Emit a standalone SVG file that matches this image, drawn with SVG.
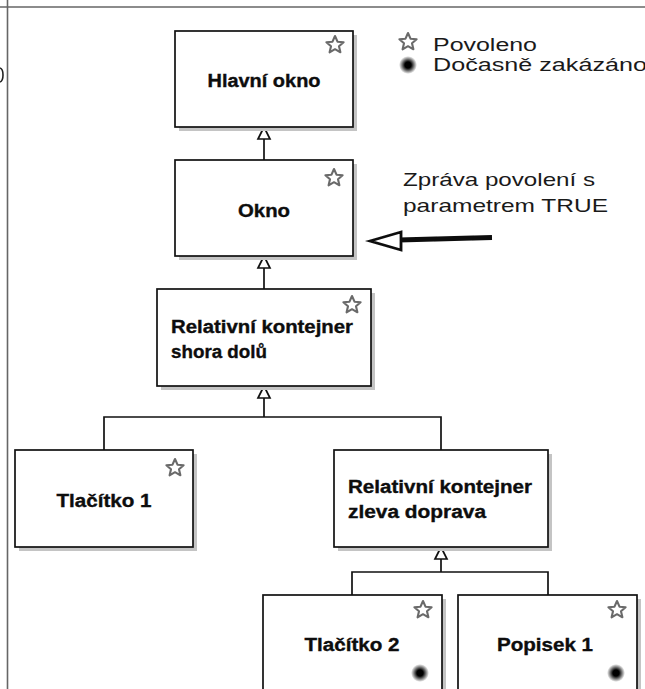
<svg xmlns="http://www.w3.org/2000/svg" width="645" height="689" viewBox="0 0 645 689">
  <style>
    .box { fill: #ffffff; stroke: #111111; stroke-width: 1.7; }
    .shadow { fill: #c4c4c4; }
    .lbl { font-family: "Liberation Sans", Arial, sans-serif; font-weight: bold; font-size: 18px; fill: #0d0d0d; stroke: #0d0d0d; stroke-width: 0.35px; }
    .note { font-family: "Liberation Sans", Arial, sans-serif; font-size: 19px; fill: #1a1a1a; }
    .legend-text { font-family: "Liberation Sans", Arial, sans-serif; font-size: 17.5px; fill: #1a1a1a; }
    .wire { fill: none; stroke: #111111; stroke-width: 1.7; }
    .tri { fill: #ffffff; stroke: #111111; stroke-width: 1.7; stroke-linejoin: miter; }
    .star { fill: #ffffff; stroke: #6a6a6a; stroke-width: 2.1; stroke-linejoin: round; }
    .frame { stroke: #666666; stroke-width: 1.6; fill: none; }
  </style>
  <defs>
    <path id="star" d="M0,-9 L2.5,-3.3 L8.6,-2.8 L4,1.3 L5.4,7.3 L0,4.2 L-5.4,7.3 L-4,1.3 L-8.6,-2.8 L-2.5,-3.3 Z"/>
    <radialGradient id="dotGrad">
      <stop offset="0" stop-color="#000000"/>
      <stop offset="0.35" stop-color="#000000"/>
      <stop offset="1" stop-color="#000000" stop-opacity="0"/>
    </radialGradient>
    <filter id="soft" x="-20%" y="-50%" width="140%" height="200%">
      <feGaussianBlur stdDeviation="0.7"/>
    </filter>
  </defs>

  <rect width="645" height="689" fill="#ffffff"/>

  <!-- page frame lines -->
  <line class="frame" x1="0" y1="7" x2="645" y2="7"/>
  <line class="frame" x1="7.5" y1="0" x2="7.5" y2="689"/>
  <path d="M0,68 Q3,69 3,75 Q3,81 0,82" fill="none" stroke="#222" stroke-width="1.6"/>

  <!-- legend -->
  <g id="legend">
    <use href="#star" x="408" y="42" class="star"/>
    <text class="legend-text" x="433" y="51" textLength="104" lengthAdjust="spacingAndGlyphs">Povoleno</text>
    <circle cx="408" cy="65" r="9" fill="url(#dotGrad)"/>
    <text class="legend-text" x="433" y="71" textLength="214" lengthAdjust="spacingAndGlyphs">Dočasně zakázáno</text>
  </g>

  <!-- message note with arrow -->
  <g id="message">
    <text class="note" x="403" y="186" textLength="192" lengthAdjust="spacingAndGlyphs">Zpráva povolení s</text>
    <text class="note" x="403" y="212" textLength="205" lengthAdjust="spacingAndGlyphs">parametrem TRUE</text>
    <g filter="url(#soft)">
      <line x1="398" y1="240" x2="492" y2="237.5" stroke="#0d0d0d" stroke-width="5"/>
      <polygon points="370,241 401,232 401,250" fill="#ffffff" stroke="#0d0d0d" stroke-width="2.8" stroke-linejoin="miter"/>
    </g>
  </g>

  <!-- connectors -->
  <g id="connectors">
    <line class="wire" x1="264" y1="139" x2="264" y2="160"/>
    <polygon class="tri" points="264,127 258,139 270,139"/>
    <line class="wire" x1="264" y1="268" x2="264" y2="289"/>
    <polygon class="tri" points="264,256 258,268 270,268"/>
    <path class="wire" d="M264,398 V417 M104,450 V417 H441 V450"/>
    <polygon class="tri" points="264,386 258,398 270,398"/>
    <path class="wire" d="M441,559 V572 M352,595 V572 H548 V595"/>
    <polygon class="tri" points="441,547 435,559 447,559"/>
  </g>

  <!-- nodes -->
  <g id="node-hlavni-okno">
    <rect class="shadow" x="179" y="35" width="178" height="96"/>
    <rect class="box" x="175" y="31" width="178" height="96"/>
    <use href="#star" x="335" y="45" class="star"/>
    <text class="lbl" x="264" y="87" text-anchor="middle" textLength="113" lengthAdjust="spacingAndGlyphs">Hlavní okno</text>
  </g>

  <g id="node-okno">
    <rect class="shadow" x="179" y="164" width="178" height="96"/>
    <rect class="box" x="175" y="160" width="178" height="96"/>
    <use href="#star" x="334" y="178" class="star"/>
    <text class="lbl" x="264" y="217" text-anchor="middle" textLength="52" lengthAdjust="spacingAndGlyphs">Okno</text>
  </g>

  <g id="node-shora-dolu">
    <rect class="shadow" x="161" y="293" width="214" height="97"/>
    <rect class="box" x="157" y="289" width="214" height="97"/>
    <use href="#star" x="352" y="305" class="star"/>
    <text class="lbl" x="171" y="333" textLength="182" lengthAdjust="spacingAndGlyphs">Relativní kontejner</text>
    <text class="lbl" x="171" y="358" textLength="96" lengthAdjust="spacingAndGlyphs">shora dolů</text>
  </g>

  <g id="node-tlacitko-1">
    <rect class="shadow" x="19" y="454" width="178" height="97"/>
    <rect class="box" x="15" y="450" width="178" height="97"/>
    <use href="#star" x="175" y="468" class="star"/>
    <text class="lbl" x="104" y="507" text-anchor="middle" textLength="95" lengthAdjust="spacingAndGlyphs">Tlačítko 1</text>
  </g>

  <g id="node-zleva-doprava">
    <rect class="shadow" x="338" y="454" width="214" height="97"/>
    <rect class="box" x="334" y="450" width="214" height="97"/>
    <text class="lbl" x="348" y="493" textLength="184" lengthAdjust="spacingAndGlyphs">Relativní kontejner</text>
    <text class="lbl" x="348" y="518" textLength="138" lengthAdjust="spacingAndGlyphs">zleva doprava</text>
  </g>

  <g id="node-tlacitko-2">
    <rect class="shadow" x="267" y="599" width="179" height="110"/>
    <rect class="box" x="263" y="595" width="179" height="110"/>
    <use href="#star" x="423" y="610" class="star"/>
    <text class="lbl" x="352" y="651" text-anchor="middle" textLength="95" lengthAdjust="spacingAndGlyphs">Tlačítko 2</text>
    <circle cx="420" cy="673" r="9" fill="url(#dotGrad)"/>
  </g>

  <g id="node-popisek-1">
    <rect class="shadow" x="462" y="599" width="179" height="110"/>
    <rect class="box" x="458" y="595" width="179" height="110"/>
    <use href="#star" x="617" y="610" class="star"/>
    <text class="lbl" x="545" y="651" text-anchor="middle" textLength="96" lengthAdjust="spacingAndGlyphs">Popisek 1</text>
    <circle cx="616" cy="673" r="9" fill="url(#dotGrad)"/>
  </g>
</svg>
